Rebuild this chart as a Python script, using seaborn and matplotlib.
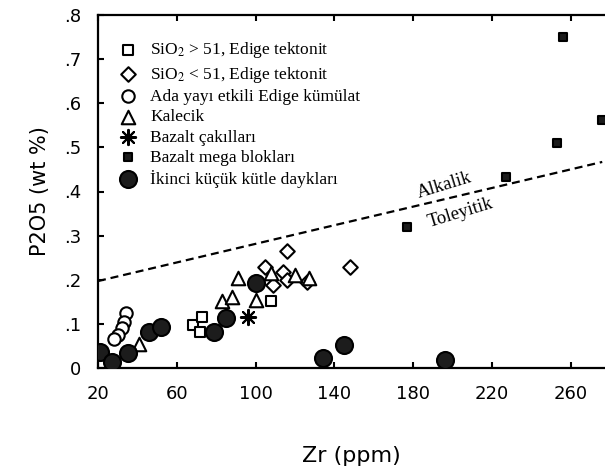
import matplotlib
matplotlib.use("Agg")
import matplotlib.pyplot as plt
import seaborn as sns
import pandas as pd

sns.set_theme(style="white")
plt.rcParams["font.family"] = ["DejaVu Sans"]
plt.rcParams["mathtext.fontset"] = "stix"

# Zr (ppm) and P2O5 (wt %) for each rock group
sq_zr = [68, 73, 72, 108]
sq_p = [0.098, 0.116, 0.082, 0.152]

dia_zr = [105, 109, 114, 116, 116, 126, 148]
dia_p = [0.228, 0.188, 0.218, 0.200, 0.265, 0.195, 0.228]

circ_zr = [34, 33, 32, 30, 28]
circ_p = [0.125, 0.105, 0.090, 0.075, 0.065]

tri_zr = [41, 83, 88, 91, 100, 108, 120, 127]
tri_p = [0.055, 0.152, 0.160, 0.203, 0.155, 0.215, 0.210, 0.205]

ast_zr = [96]
ast_p = [0.115]

mega_zr = [177, 227, 253, 256, 276]
mega_p = [0.320, 0.433, 0.510, 0.750, 0.562]

dyke_zr = [21, 27, 35, 46, 52, 79, 85, 100, 134, 145, 196]
dyke_p = [0.036, 0.014, 0.034, 0.082, 0.093, 0.082, 0.113, 0.193, 0.023, 0.052, 0.018]

# Alkaline / tholeiitic boundary
line_zr = [20, 276]
line_p = [0.197, 0.467]

x_ticks = [20, 60, 100, 140, 180, 220, 260]
y_ticks = [0, 0.1, 0.2, 0.3, 0.4, 0.5, 0.6, 0.7, 0.8]
y_ticklabels = ["0", ".1", ".2", ".3", ".4", ".5", ".6", ".7", ".8"]

groups = [
    ("SiO$_2$ > 51, Edige tektonit", sq_zr, sq_p, "s", 60, "white", "black"),
    ("SiO$_2$ < 51, Edige tektonit", dia_zr, dia_p, "D", 55, "white", "black"),
    ("Ada yayı etkili Edige kümülat", circ_zr, circ_p, "o", 80, "white", "black"),
    ("Kalecik", tri_zr, tri_p, "^", 95, "white", "black"),
    ("Bazalt çakılları", ast_zr, ast_p, (8, 2, 0), 120, "black", "black"),
    ("Bazalt mega blokları", mega_zr, mega_p, "s", 34, "#1c1c1c", "black"),
    ("İkinci küçük kütle daykları", dyke_zr, dyke_p, "o", 150, "#1c1c1c", "black"),
]

fig = plt.figure(figsize=(6.05, 4.75), dpi=100)
ax = fig.add_axes([98 / 605, 1 - 368 / 475, 1 - 98 / 605, 353 / 475])

ax.plot(line_zr, line_p, color="black", lw=1.6, dashes=(3.6, 2.2), zorder=1)

for label, zr, p, marker, size, face, edge in groups:
    df = pd.DataFrame({"Zr": zr, "P2O5": p})
    sns.scatterplot(data=df, x="Zr", y="P2O5", marker=marker, s=size,
                    facecolor=face, edgecolor=edge, linewidth=1.5,
                    label=label, ax=ax, zorder=3, clip_on=True)

ax.set_xlim(20, 277.4)
ax.set_ylim(0, 0.8)
ax.set_xticks(x_ticks)
ax.set_yticks(y_ticks)
ax.set_yticklabels(y_ticklabels)

for side in ["left", "bottom", "top"]:
    ax.spines[side].set_visible(True)
    ax.spines[side].set_color("black")
    ax.spines[side].set_linewidth(1.6)
ax.spines["right"].set_visible(False)

ax.tick_params(axis="both", direction="in", length=4.5, width=1.5, color="black",
               labelsize=13, labelcolor="black")
ax.tick_params(axis="x", pad=12, top=True, bottom=True)
ax.tick_params(axis="y", pad=12, left=True, right=False)

ax.set_xlabel("Zr (ppm)", fontsize=16, labelpad=31, color="black")
ax.set_ylabel("P2O5 (wt %)", fontsize=15, labelpad=10, color="black")

ax.text(196, 0.413, "Alkalik", family="Liberation Serif", fontsize=13.5,
        rotation=17, ha="center", va="center", color="black")
ax.text(204, 0.352, "Toleyitik", family="Liberation Serif", fontsize=13.5,
        rotation=17, ha="center", va="center", color="black")

leg = ax.legend(loc="upper left", bbox_to_anchor=(0.043, 0.928), frameon=False,
                borderpad=0, borderaxespad=0, handlelength=1.0, handletextpad=0.75,
                labelspacing=0.24, prop={"family": "Liberation Serif", "size": 12.5})
for t in leg.get_texts():
    t.set_color("black")

fig.savefig("out.png", dpi=100)
